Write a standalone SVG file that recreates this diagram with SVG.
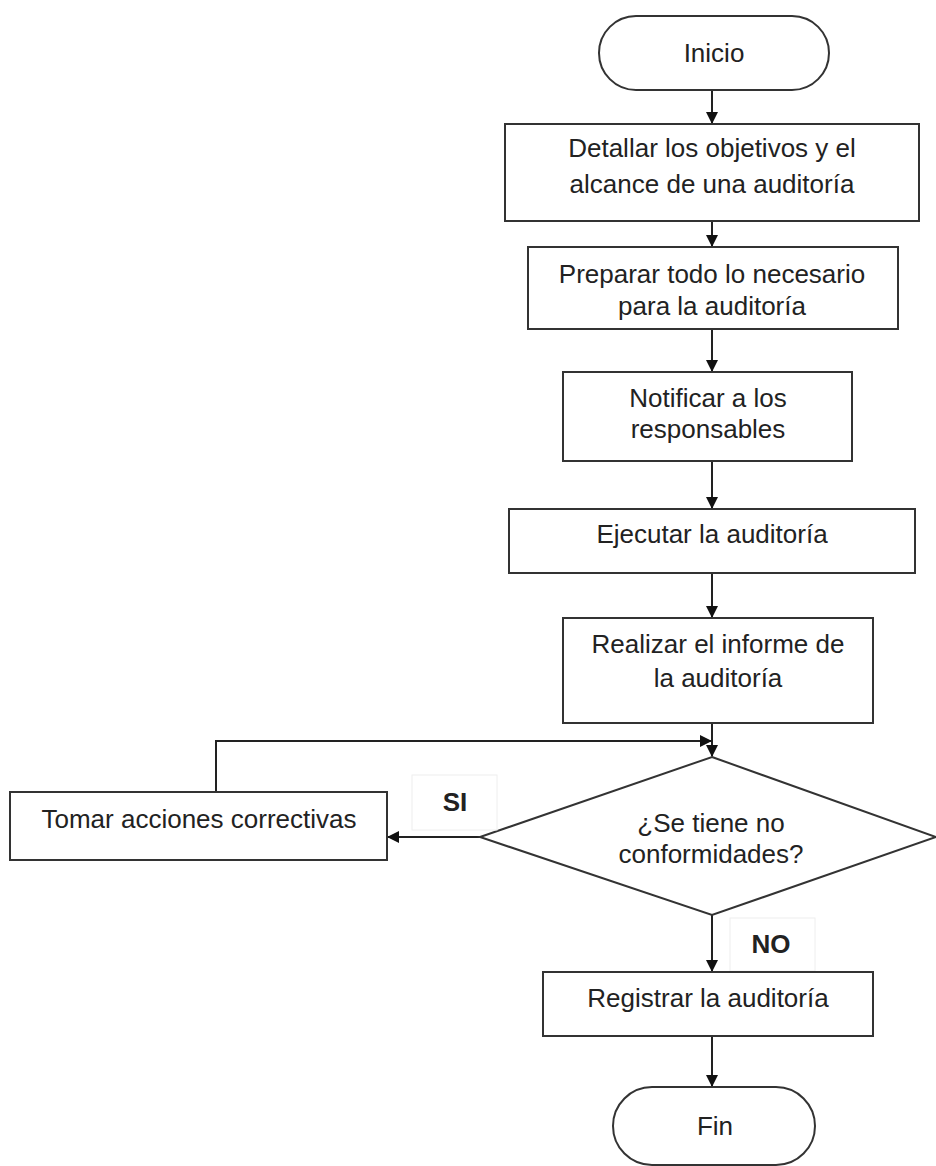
<svg xmlns="http://www.w3.org/2000/svg" width="936" height="1166" viewBox="0 0 936 1166">
<style>
.s{fill:#fff;stroke:#333;stroke-width:2}
.t{font-family:"Liberation Sans",Arial,sans-serif;font-size:26px;fill:#222;text-anchor:middle}
.b{font-weight:bold}
.c{fill:none;stroke:#222;stroke-width:2}
.lb{fill:#fff;stroke:#eee;stroke-width:1}
</style>
<defs>
<marker id="a" markerWidth="12" markerHeight="12" refX="11" refY="6" orient="auto" markerUnits="userSpaceOnUse">
<path d="M0,0 L12,6 L0,12 Z" fill="#111"/>
</marker>
</defs>
<rect width="936" height="1166" fill="#fff"/>
<g id="connectors">
<path class="c" d="M712,90 V123" marker-end="url(#a)"/>
<path class="c" d="M712,221 V246" marker-end="url(#a)"/>
<path class="c" d="M712,329 V371" marker-end="url(#a)"/>
<path class="c" d="M712,461 V508" marker-end="url(#a)"/>
<path class="c" d="M712,573 V617" marker-end="url(#a)"/>
<path class="c" d="M712,723 V756" marker-end="url(#a)"/>
<path class="c" d="M153,792 H216 V741 H711" marker-end="url(#a)"/>
<path class="c" d="M480,837 H388" marker-end="url(#a)"/>
<path class="c" d="M712,915 V971" marker-end="url(#a)"/>
<path class="c" d="M712,1036 V1086" marker-end="url(#a)"/>
</g>
<g id="inicio">
<rect class="s" x="599" y="16" width="230" height="74" rx="37"/>
<text class="t" x="714" y="62">Inicio</text>
</g>
<g id="detallar">
<rect class="s" x="505" y="124" width="414" height="97"/>
<text class="t" x="712" y="157">Detallar los objetivos y el</text>
<text class="t" x="712" y="193">alcance de una auditoría</text>
</g>
<g id="preparar">
<rect class="s" x="528" y="247" width="370" height="82"/>
<text class="t" x="712" y="283">Preparar todo lo necesario</text>
<text class="t" x="712" y="315">para la auditoría</text>
</g>
<g id="notificar">
<rect class="s" x="563" y="372" width="289" height="89"/>
<text class="t" x="708" y="407">Notificar a los</text>
<text class="t" x="708" y="438">responsables</text>
</g>
<g id="ejecutar">
<rect class="s" x="509" y="509" width="406" height="64"/>
<text class="t" x="712" y="543">Ejecutar la auditoría</text>
</g>
<g id="realizar">
<rect class="s" x="563" y="618" width="310" height="105"/>
<text class="t" x="718" y="653">Realizar el informe de</text>
<text class="t" x="718" y="687">la auditoría</text>
</g>
<g id="decision">
<polygon class="s" points="712,757 936,837 712,915 480,837"/>
<text class="t" x="711" y="832">¿Se tiene no</text>
<text class="t" x="711" y="863">conformidades?</text>
</g>
<g id="tomar">
<rect class="s" x="10" y="792" width="377" height="68"/>
<text class="t" x="199" y="828">Tomar acciones correctivas</text>
</g>
<g id="label-si">
<rect class="lb" x="412" y="775" width="85" height="55"/>
<text class="t b" x="455" y="811">SI</text>
</g>
<g id="label-no">
<rect class="lb" x="730" y="918" width="85" height="53"/>
<text class="t b" x="771" y="953">NO</text>
</g>
<g id="registrar">
<rect class="s" x="543" y="972" width="330" height="64"/>
<text class="t" x="708" y="1007">Registrar la auditoría</text>
</g>
<g id="fin">
<rect class="s" x="613" y="1087" width="202" height="78" rx="39"/>
<text class="t" x="715" y="1135">Fin</text>
</g>
</svg>
